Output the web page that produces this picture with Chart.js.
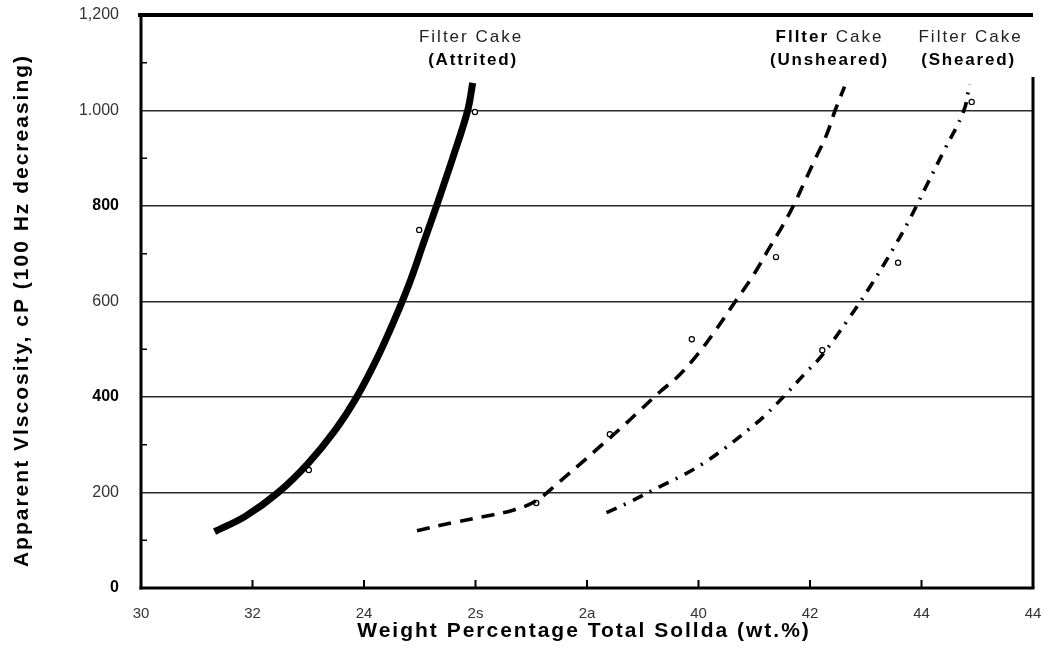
<!DOCTYPE html>
<html>
<head>
<meta charset="utf-8">
<script src="https://cdn.jsdelivr.net/npm/chart.js@4/dist/chart.umd.min.js"></script>
<style>
  html, body { margin: 0; padding: 0; background: #fff; }
  #wrap { width: 1045px; height: 658px; }
</style>
</head>
<body>
<div id="wrap"><canvas id="c" width="1045" height="658"></canvas></div>
<script>
// ---- data ----
const xTickLabels = ['30', '32', '24', '2s', '2a', '40', '42', '44', '44'];
const yTickLabels = ['0', '200', '400', '600', '800', '1.000', '1,200'];

const attritedX = [31.32, 31.87, 32.46, 32.99, 33.48, 33.87, 34.23, 34.54, 34.82, 35.06, 35.3, 35.59, 35.86, 35.95];
const attritedY = [118, 150, 200, 260, 330, 400, 480, 560, 640, 720, 800, 900, 1000, 1058];

const unshearedX = [34.95, 35.6, 36.3, 36.7, 37.08, 37.5, 37.9, 38.25, 38.6, 38.95, 39.3, 39.63, 39.94, 40.24, 40.66, 41.0, 41.25, 41.5, 41.7, 41.9, 42.1, 42.3, 42.45, 42.62];
const unshearedY = [120, 137, 153, 164, 182, 222, 262, 298, 334, 372, 410, 443, 483, 529, 600, 658, 708, 757, 800, 850, 900, 950, 1000, 1050];

const shearedX = [38.35, 38.8, 39.3, 39.75, 40.1, 40.5, 40.9, 41.2, 41.6, 41.9, 42.2, 42.7, 43.1, 43.5, 43.8, 44.1, 44.4, 44.76, 44.86];
const shearedY = [158, 182, 212, 238, 262, 295, 332, 362, 410, 448, 485, 565, 635, 712, 775, 845, 915, 1000, 1055];

const attritedPtsX = [33.01, 34.99, 35.99];
const attritedPtsY = [247, 750, 997];
const unshearedPtsX = [37.09, 38.41, 39.88, 41.39];
const unshearedPtsY = [178, 322, 521, 693];
const shearedPtsX = [42.22, 43.58, 44.9];
const shearedPtsY = [498, 681, 1018];

const xTitle = 'Weight Percentage Total Sollda (wt.%)';
const yTitle = 'Apparent Vlscosity, cP (100 Hz decreasing)';

// ---- helpers ----
const FONT = '"Liberation Sans", Arial, Helvetica, sans-serif';
const zip = (xs, ys) => xs.map((x, i) => ({ x: x, y: ys[i] }));
const boldY = [0, 400, 800];
const CLEAR = 'rgba(0,0,0,0)';

const lineDs = (data, width, dash, tension) => ({
  data: data, showLine: true, fill: false, pointRadius: 0,
  borderColor: '#000', borderWidth: width, borderDash: dash,
  borderCapStyle: 'butt', borderJoinStyle: 'round', tension: tension
});
const ptDs = (data) => ({
  data: data, showLine: false, pointRadius: 2.6, pointStyle: 'circle',
  pointBackgroundColor: '#fff', pointBorderColor: '#000', pointBorderWidth: 1.2
});

function spacedText(ctx, text, x, y, font, color, spacing, align) {
  ctx.font = font;
  ctx.fillStyle = color;
  ctx.letterSpacing = spacing + 'px';
  ctx.textAlign = align || 'center';
  ctx.textBaseline = 'alphabetic';
  ctx.fillText(text, x, y);
}

const decor = {
  id: 'decor',
  afterDraw(chart) {
    const { ctx, chartArea: a, scales: { x, y } } = chart;
    ctx.save();
    ctx.strokeStyle = '#000';
    ctx.lineCap = 'butt';
    const seg = (x1, y1, x2, y2, w) => {
      ctx.lineWidth = w; ctx.beginPath(); ctx.moveTo(x1, y1); ctx.lineTo(x2, y2); ctx.stroke();
    };
    // frame
    seg(a.left, a.top, a.left, a.bottom + 1.5, 3);
    seg(a.left - 1.5, a.bottom, a.right + 1.5, a.bottom, 3);
    seg(a.left - 3, a.top, a.right, a.top, 4);
    seg(a.right, y.getPixelForValue(1070), a.right, a.bottom, 3);
    // inward ticks on x
    x.ticks.forEach(t => {
      if (t.value > x.min && t.value < x.max) {
        const px = x.getPixelForValue(t.value);
        seg(px, a.bottom, px, a.bottom - 8, 2);
      }
    });
    // minor ticks on y
    for (let v = 100; v < 1200; v += 200) {
      const py = y.getPixelForValue(v);
      seg(a.left, py, a.left + 6, py, 1.5);
    }
    // axis titles
    spacedText(ctx, xTitle, (a.left + a.right) / 2 - 3, a.bottom + 49, 'bold 21px ' + FONT, '#000', 2, 'center');
    ctx.save();
    ctx.translate(28, (a.top + a.bottom) / 2 + 9);
    ctx.rotate(-Math.PI / 2);
    spacedText(ctx, yTitle, 0, 0, 'bold 21px ' + FONT, '#000', 2, 'center');
    ctx.restore();
    // curve labels
    const t1 = a.top + 27, t2 = a.top + 50;
    const xa = x.getPixelForValue(35.92), xu = x.getPixelForValue(42.35), xs = x.getPixelForValue(44.88);
    spacedText(ctx, 'Filter Cake', xa, t1, '17px ' + FONT, '#222', 2, 'center');
    spacedText(ctx, '(Attrited)', xa + 2, t2, 'bold 17px ' + FONT, '#000', 1.8, 'center');
    ctx.font = 'bold 17px ' + FONT; ctx.letterSpacing = '2px';
    const w1 = ctx.measureText('Fllter').width;
    ctx.font = '17px ' + FONT;
    const w2 = ctx.measureText(' Cake').width;
    const startU = xu - (w1 + w2) / 2;
    spacedText(ctx, 'Fllter', startU, t1, 'bold 17px ' + FONT, '#000', 2, 'left');
    spacedText(ctx, ' Cake', startU + w1, t1, '17px ' + FONT, '#222', 2, 'left');
    spacedText(ctx, '(Unsheared)', xu, t2, 'bold 17px ' + FONT, '#000', 1.8, 'center');
    spacedText(ctx, 'Filter Cake', xs, t1, '17px ' + FONT, '#222', 2, 'center');
    spacedText(ctx, '(Sheared)', xs - 2, t2, 'bold 17px ' + FONT, '#000', 1.8, 'center');
    ctx.restore();
  }
};

new Chart(document.getElementById('c'), {
  type: 'scatter',
  data: {
    datasets: [
      lineDs(zip(attritedX, attritedY), 7, [], 0.35),
      lineDs(zip(unshearedX, unshearedY), 3.6, [13, 9], 0.4),
      lineDs(zip(shearedX, shearedY), 3.6, [11, 8, 2, 8], 0.4),
      ptDs(zip(attritedPtsX, attritedPtsY)),
      ptDs(zip(unshearedPtsX, unshearedPtsY)),
      ptDs(zip(shearedPtsX, shearedPtsY))
    ]
  },
  options: {
    responsive: false,
    animation: false,
    devicePixelRatio: 1,
    layout: { padding: { top: 15, right: 12, bottom: 0, left: 0 } },
    plugins: { legend: { display: false }, tooltip: { enabled: false }, title: { display: false } },
    scales: {
      x: {
        type: 'linear', min: 30, max: 46,
        afterFit: (s) => { s.height = 70; },
        grid: { display: true, drawOnChartArea: false, drawTicks: true, tickLength: 15, color: CLEAR, tickColor: CLEAR },
        border: { display: false },
        ticks: {
          stepSize: 2, autoSkip: false, maxRotation: 0, padding: 2,
          callback: (v, i) => xTickLabels[i],
          font: { family: FONT, size: 15 },
          color: '#333'
        },
        title: { display: false }
      },
      y: {
        type: 'linear', min: 0, max: 1200,
        afterFit: (s) => { s.width = 141; },
        grid: {
          drawTicks: true, tickLength: 20, tickColor: CLEAR,
          lineWidth: 1.6,
          color: (c) => (c.tick && (c.tick.value === 0 || c.tick.value === 1200)) ? CLEAR : '#2a2a2a'
        },
        border: { display: false },
        ticks: {
          stepSize: 200, padding: 2,
          callback: (v, i) => yTickLabels[i],
          font: (c) => ({ family: FONT, size: 16, weight: (c.tick && boldY.includes(c.tick.value)) ? 'bold' : 'normal' }),
          color: (c) => (c.tick && boldY.includes(c.tick.value)) ? '#000' : '#333'
        },
        title: { display: false }
      }
    }
  },
  plugins: [decor]
});
</script>
</body>
</html>
